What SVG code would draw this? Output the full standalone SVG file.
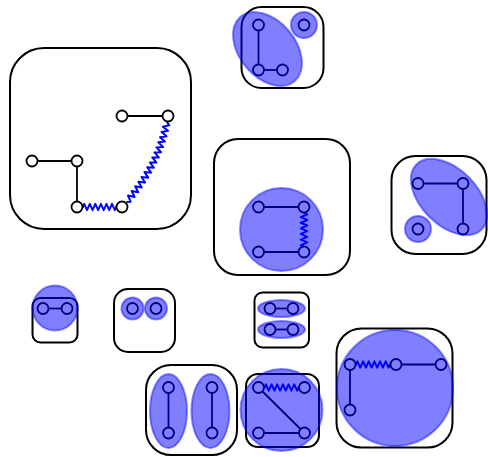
<svg xmlns="http://www.w3.org/2000/svg" xmlns:xlink="http://www.w3.org/1999/xlink" width="488" height="457" viewBox="0 0 488 457">
<style>
.box{fill:none;stroke:#000;stroke-width:2}
.edge{fill:none;stroke:#000;stroke-width:1.8}
.spring{fill:none;stroke:#00f;stroke-width:2;stroke-linejoin:round}
.node{fill:#fff;stroke:#000;stroke-width:1.8}
.hl{fill:#00f;fill-opacity:0.5;stroke:#00f;stroke-opacity:0.45;stroke-width:2}
</style>
<defs>
<path id="spr" d="M0,0 L6,0 L7.4,-3.2 L10.2,3.2 L13.1,-3.2 L15.9,3.2 L18.7,-3.2 L21.6,3.2 L24.4,-3.2 L27.2,3.2 L30.1,-3.2 L32.9,3.2 L35.7,-3.2 L38.6,3.2 L40,0 L46,0"/>
</defs>
<rect width="488" height="457" fill="#fff"/>
<g id="clusters">
<rect id="c1" class="box" x="10" y="48" width="181" height="181" rx="34"/>
<rect id="c2" class="box" x="241.5" y="7" width="82" height="81" rx="20"/>
<rect id="c3" class="box" x="214" y="139" width="136" height="136" rx="24"/>
<rect id="c4" class="box" x="391.5" y="156" width="95" height="98" rx="24"/>
<rect id="c5" class="box" x="32.5" y="298" width="45" height="44.5" rx="8"/>
<rect id="c6" class="box" x="114" y="289" width="61" height="63" rx="14"/>
<rect id="c7" class="box" x="254.5" y="292.5" width="54.5" height="55" rx="8"/>
<rect id="c8" class="box" x="146" y="365" width="91" height="90" rx="25"/>
<rect id="c9" class="box" x="246" y="374" width="73" height="73" rx="12"/>
<rect id="c10" class="box" x="336.5" y="328.5" width="116" height="119" rx="25"/>
</g>
<g id="connectors">
<line class="edge" x1="122" y1="116" x2="168" y2="116"/>
<line class="edge" x1="32" y1="161" x2="77" y2="161"/>
<line class="edge" x1="77" y1="161" x2="77" y2="207"/>
<use href="#spr" class="spring" transform="translate(77,207) scale(0.98,1)"/>
<polyline class="spring" points="166.93,121.97 169.30,125.31 162.84,126.70 168.02,130.80 161.51,131.96 166.55,136.23 160.01,137.16 164.90,141.61 158.33,142.31 163.06,146.93 156.47,147.41 161.04,152.19 154.44,152.46 158.83,157.40 152.22,157.46 156.44,162.55 149.82,162.40 153.86,167.65 147.25,167.29 151.11,172.68 144.50,172.12 148.17,177.66 141.56,176.91 145.04,182.58 138.45,181.64 141.73,187.45 135.15,186.33 138.24,192.25 131.68,190.96 134.57,197.00 128.02,195.54 130.71,201.70 126.45,202.05"/>
<line class="edge" x1="258.5" y1="25" x2="258.5" y2="70"/>
<line class="edge" x1="258.5" y1="70" x2="282.5" y2="70"/>
<line class="edge" x1="258.5" y1="207" x2="304" y2="207"/>
<line class="edge" x1="258.5" y1="252" x2="304" y2="252"/>
<use href="#spr" class="spring" transform="translate(304,207) rotate(90) scale(0.99,1)"/>
<line class="edge" x1="418" y1="183.5" x2="463" y2="183.5"/>
<line class="edge" x1="463" y1="183.5" x2="463" y2="229"/>
<line class="edge" x1="43" y1="308.5" x2="67" y2="308.5"/>
<line class="edge" x1="270" y1="308.5" x2="293" y2="308.5"/>
<line class="edge" x1="270" y1="329.5" x2="293" y2="329.5"/>
<line class="edge" x1="168.5" y1="387.5" x2="168.5" y2="433"/>
<line class="edge" x1="212" y1="387.5" x2="212" y2="433"/>
<use href="#spr" class="spring" transform="translate(258.5,387.5)"/>
<line class="edge" x1="258.5" y1="387.5" x2="304.5" y2="433"/>
<line class="edge" x1="258.5" y1="433" x2="304.5" y2="433"/>
<use href="#spr" class="spring" transform="translate(350,364.5)"/>
<line class="edge" x1="396" y1="364.5" x2="441" y2="364.5"/>
<line class="edge" x1="350" y1="364.5" x2="350" y2="410"/>
</g>
<g id="nodes">
<g id="n1"><circle class="node" cx="122" cy="116" r="5.5"/></g>
<g id="n2"><circle class="node" cx="168" cy="116" r="5.5"/></g>
<g id="n3"><circle class="node" cx="32" cy="161" r="5.5"/></g>
<g id="n4"><circle class="node" cx="77" cy="161" r="5.5"/></g>
<g id="n5"><circle class="node" cx="77" cy="207" r="5.5"/></g>
<g id="n6"><circle class="node" cx="122" cy="207" r="5.5"/></g>
<g id="n7"><circle class="node" cx="258.5" cy="25" r="5.5"/></g>
<g id="n8"><circle class="node" cx="258.5" cy="70" r="5.5"/></g>
<g id="n9"><circle class="node" cx="282.5" cy="70" r="5.5"/></g>
<g id="n10"><circle class="node" cx="304" cy="25" r="5.5"/></g>
<g id="n11"><circle class="node" cx="258.5" cy="207" r="5.5"/></g>
<g id="n12"><circle class="node" cx="304" cy="207" r="5.5"/></g>
<g id="n13"><circle class="node" cx="258.5" cy="252" r="5.5"/></g>
<g id="n14"><circle class="node" cx="304" cy="252" r="5.5"/></g>
<g id="n15"><circle class="node" cx="418" cy="183.5" r="5.5"/></g>
<g id="n16"><circle class="node" cx="463" cy="183.5" r="5.5"/></g>
<g id="n17"><circle class="node" cx="463" cy="229" r="5.5"/></g>
<g id="n18"><circle class="node" cx="418" cy="229" r="5.5"/></g>
<g id="n19"><circle class="node" cx="43" cy="308.5" r="5.5"/></g>
<g id="n20"><circle class="node" cx="67" cy="308.5" r="5.5"/></g>
<g id="n21"><circle class="node" cx="132.5" cy="308.5" r="5.5"/></g>
<g id="n22"><circle class="node" cx="156" cy="308.5" r="5.5"/></g>
<g id="n23"><circle class="node" cx="270" cy="308.5" r="5.5"/></g>
<g id="n24"><circle class="node" cx="293" cy="308.5" r="5.5"/></g>
<g id="n25"><circle class="node" cx="270" cy="329.5" r="5.5"/></g>
<g id="n26"><circle class="node" cx="293" cy="329.5" r="5.5"/></g>
<g id="n27"><circle class="node" cx="168.5" cy="387.5" r="5.5"/></g>
<g id="n28"><circle class="node" cx="168.5" cy="433" r="5.5"/></g>
<g id="n29"><circle class="node" cx="212" cy="387.5" r="5.5"/></g>
<g id="n30"><circle class="node" cx="212" cy="433" r="5.5"/></g>
<g id="n31"><circle class="node" cx="258.5" cy="387.5" r="5.5"/></g>
<g id="n32"><circle class="node" cx="304.5" cy="387.5" r="5.5"/></g>
<g id="n33"><circle class="node" cx="258.5" cy="433" r="5.5"/></g>
<g id="n34"><circle class="node" cx="304.5" cy="433" r="5.5"/></g>
<g id="n35"><circle class="node" cx="350" cy="364.5" r="5.5"/></g>
<g id="n36"><circle class="node" cx="396" cy="364.5" r="5.5"/></g>
<g id="n37"><circle class="node" cx="441" cy="364.5" r="5.5"/></g>
<g id="n38"><circle class="node" cx="350" cy="410" r="5.5"/></g>
</g>
<g id="highlights">
<ellipse class="hl" cx="267.5" cy="49" rx="42" ry="28" transform="rotate(50 267.5 49)"/>
<circle class="hl" cx="304" cy="25" r="13"/>
<circle class="hl" cx="281.5" cy="229.5" r="41.5"/>
<ellipse class="hl" cx="449" cy="197" rx="46" ry="28" transform="rotate(45 449 197)"/>
<circle class="hl" cx="418" cy="229" r="13"/>
<circle class="hl" cx="55" cy="308" r="22.5"/>
<circle class="hl" cx="132.5" cy="308.5" r="11"/>
<circle class="hl" cx="156" cy="308.5" r="11"/>
<ellipse class="hl" cx="281.5" cy="308.5" rx="23.5" ry="8.5"/>
<ellipse class="hl" cx="281.5" cy="329.5" rx="23.5" ry="8.5"/>
<ellipse class="hl" cx="168.5" cy="411" rx="18.5" ry="37"/>
<ellipse class="hl" cx="210.5" cy="411" rx="19" ry="37"/>
<circle class="hl" cx="281.5" cy="410" r="41"/>
<circle class="hl" cx="395" cy="388" r="58"/>
</g>
</svg>
